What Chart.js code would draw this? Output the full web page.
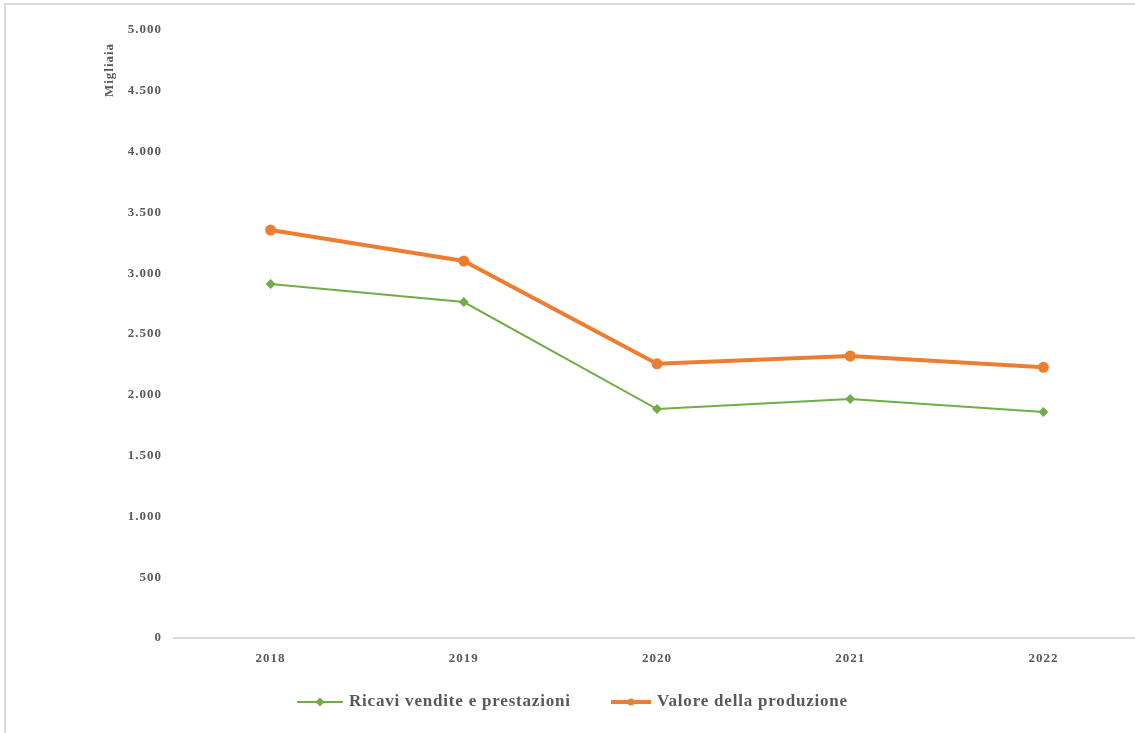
<!DOCTYPE html>
<html>
<head>
<meta charset="utf-8">
<script src="https://cdn.jsdelivr.net/npm/chart.js@4.4.1/dist/chart.umd.min.js"></script>
<style>
  html, body { margin: 0; padding: 0; background: #fff; overflow: hidden; width: 1135px; height: 733px; }
  #frame { position: absolute; left: 4px; top: 3px; width: 1200px; height: 800px;
           border-left: 2px solid #d9d9d9; border-top: 2px solid #d9d9d9; }
  #wrap { position: absolute; left: 0; top: 0; width: 1150px; height: 733px; }
</style>
</head>
<body>
<div id="frame"></div>
<div id="wrap"><canvas id="c" width="1150" height="733"></canvas></div>
<script>
// Anni di riferimento
const years = ['2018', '2019', '2020', '2021', '2022'];
// Valori in migliaia di euro
const ricaviVendite = [2911, 2763, 1883, 1965, 1859];
const valoreProduzione = [3355, 3100, 2255, 2319, 2226];
const yTicks = [0, 500, 1000, 1500, 2000, 2500, 3000, 3500, 4000, 4500, 5000];

const GREEN = '#70ad47';
const ORANGE = '#ed7d31';
const TEXT = '#595959';
const SERIF = '"Liberation Serif", "Times New Roman", serif';

// Spaziatura dei caratteri per tutti i testi del canvas
const spacingPlugin = {
  id: 'spacing',
  beforeDraw(chart) { chart.ctx.letterSpacing = '1px'; }
};

// Titolo verticale dell'asse Y, in alto
const yTitlePlugin = {
  id: 'yTitle',
  afterDraw(chart) {
    const ctx = chart.ctx;
    ctx.save();
    ctx.letterSpacing = '1px';
    ctx.translate(110, 70);
    ctx.rotate(-Math.PI / 2);
    ctx.font = 'bold 13px ' + SERIF;
    ctx.fillStyle = TEXT;
    ctx.textAlign = 'center';
    ctx.textBaseline = 'middle';
    ctx.fillText('Migliaia', 0, 0);
    ctx.restore();
  }
};

// Legenda in basso: linea con marcatore e testo
const legendPlugin = {
  id: 'bottomLegend',
  afterDraw(chart) {
    const ctx = chart.ctx;
    const items = [
      { ds: chart.data.datasets[0], x: 297, lineLen: 46, width: 2 },
      { ds: chart.data.datasets[1], x: 611, lineLen: 40, width: 4 }
    ];
    const y = 702;
    ctx.save();
    items.forEach(it => {
      ctx.strokeStyle = it.ds.borderColor;
      ctx.lineWidth = it.width;
      ctx.beginPath();
      ctx.moveTo(it.x, y);
      ctx.lineTo(it.x + it.lineLen, y);
      ctx.stroke();
      ctx.fillStyle = it.ds.borderColor;
      const cx = it.x + it.lineLen / 2;
      if (it.ds.pointStyle === 'rectRot') {
        ctx.beginPath();
        ctx.moveTo(cx, y - 4.5); ctx.lineTo(cx + 4.5, y); ctx.lineTo(cx, y + 4.5); ctx.lineTo(cx - 4.5, y);
        ctx.closePath(); ctx.fill();
      } else {
        ctx.beginPath(); ctx.arc(cx, y, 3.5, 0, Math.PI * 2); ctx.fill();
      }
      ctx.letterSpacing = '0.8px';
      ctx.font = 'bold 17px ' + SERIF;
      ctx.fillStyle = TEXT;
      ctx.textAlign = 'left';
      ctx.textBaseline = 'middle';
      ctx.fillText(it.ds.label, it.x + it.lineLen + 6, y);
    });
    ctx.restore();
  }
};

new Chart(document.getElementById('c'), {
  type: 'line',
  data: {
    labels: years,
    datasets: [
      {
        label: 'Ricavi vendite e prestazioni',
        data: ricaviVendite,
        borderColor: GREEN,
        backgroundColor: GREEN,
        borderWidth: 2,
        pointStyle: 'rectRot',
        pointRadius: 5,
        pointBorderWidth: 0,
        tension: 0
      },
      {
        label: 'Valore della produzione',
        data: valoreProduzione,
        borderColor: ORANGE,
        backgroundColor: ORANGE,
        borderWidth: 4,
        pointStyle: 'circle',
        pointRadius: 5.5,
        pointBorderWidth: 0,
        tension: 0
      }
    ]
  },
  options: {
    responsive: false,
    animation: false,
    devicePixelRatio: 1,
    layout: { padding: { left: 0, right: 10, top: 30, bottom: 0 } },
    plugins: { legend: { display: false }, tooltip: { enabled: false } },
    scales: {
      x: {
        offset: true,
        grid: { display: false, drawTicks: false },
        border: { display: true, color: '#d9d9d9', width: 2 },
        ticks: { color: TEXT, padding: 13, font: { family: SERIF, size: 13, weight: 'bold' } },
        afterFit(scale) { scale.height = 95; }
      },
      y: {
        min: 0,
        max: 5000,
        grid: { display: false, drawTicks: false },
        border: { display: false },
        afterBuildTicks(scale) { scale.ticks = yTicks.map(v => ({ value: v })); },
        ticks: {
          color: TEXT,
          padding: 12,
          font: { family: SERIF, size: 13, weight: 'bold' },
          callback: v => v.toLocaleString('it-IT').replace(/\s/g, '.').replace(',', '.')
        },
        afterFit(scale) { scale.width = 174; }
      }
    }
  },
  plugins: [spacingPlugin, yTitlePlugin, legendPlugin]
});
</script>
</body>
</html>
